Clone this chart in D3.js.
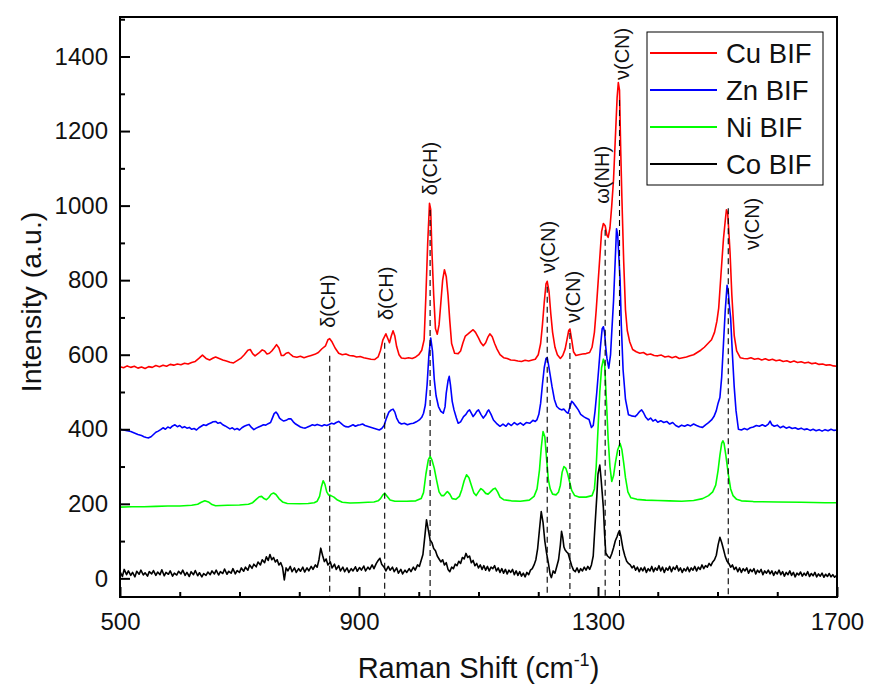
<!DOCTYPE html>
<html>
<head>
<meta charset="utf-8">
<script src="https://cdn.jsdelivr.net/npm/d3@7"></script>
<style>
body{margin:0;background:#fff}
text{font-family:"Liberation Sans",Arial,sans-serif}
</style>
</head>
<body>
<div id="raman" style="width:871px;height:697px"></div>
<script>
// spectra, [Raman shift, intensity]
var cuBIF=[[500,568],[506,565],[512,570],[518,566],[524,569],[530,564],[536,567],[542,563],[548,568],[554,566],[560,571],[566,568],[572,572],[578,569],[584,574],[590,572],[596,575],[602,573],[608,577],[614,575],[620,579],[626,582],[632,590],[638,599],[644,590],[650,586],[656,591],[660,594],[666,590],[672,586],[678,583],[684,580],[690,578],[696,584],[702,590],[708,600],[714,612],[718,614],[722,603],[726,597],[732,604],[738,613],[742,610],[746,602],[750,604],[754,610],[758,618],[762,627],[766,618],[770,598],[774,598],[778,604],[782,606],[786,600],[790,595],[796,593],[802,596],[808,592],[814,595],[820,598],[826,601],[832,606],[838,616],[844,624],[848,640],[851,643],[855,634],[860,618],[866,604],[872,600],[878,602],[884,598],[890,597],[896,594],[902,595],[908,592],[914,590],[920,588],[926,587],[932,594],[936,612],[940,640],[945,656],[949,640],[951,632],[954,650],[957,664],[960,650],[963,622],[967,600],[971,591],[977,590],[983,592],[989,590],[995,594],[1000,600],[1005,612],[1009,640],[1012,760],[1015,900],[1018,1006],[1020,990],[1022,880],[1025,760],[1028,670],[1031,655],[1034,680],[1037,740],[1040,800],[1043,828],[1046,810],[1049,760],[1052,690],[1055,630],[1060,604],[1066,603],[1070,610],[1074,632],[1078,650],[1082,655],[1087,662],[1091,667],[1095,660],[1100,645],[1104,632],[1108,624],[1112,632],[1116,648],[1119,656],[1123,648],[1127,630],[1131,615],[1136,600],[1142,592],[1148,590],[1154,586],[1160,585],[1166,583],[1172,582],[1178,585],[1184,583],[1190,586],[1195,588],[1200,600],[1204,630],[1207,680],[1210,740],[1213,790],[1215,797],[1218,770],[1221,710],[1224,660],[1228,620],[1232,600],[1237,590],[1241,598],[1245,615],[1248,640],[1251,665],[1253,669],[1256,640],[1259,608],[1263,598],[1268,600],[1274,602],[1280,603],[1286,606],[1290,620],[1294,660],[1297,720],[1300,790],[1303,860],[1306,930],[1309,952],[1312,946],[1315,920],[1317,915],[1320,940],[1323,1000],[1326,1070],[1329,1180],[1332,1290],[1334,1330],[1336,1310],[1338,1150],[1340,1020],[1343,850],[1346,720],[1349,665],[1353,635],[1358,614],[1364,608],[1370,604],[1376,606],[1382,600],[1388,602],[1394,598],[1400,597],[1406,599],[1412,594],[1418,596],[1424,592],[1430,595],[1436,590],[1442,592],[1448,594],[1454,597],[1460,600],[1466,606],[1472,612],[1478,620],[1484,630],[1490,640],[1495,660],[1499,690],[1502,725],[1506,820],[1510,911],[1513,960],[1515,989],[1517,980],[1519,930],[1521,874],[1524,760],[1528,651],[1532,610],[1538,592],[1544,590],[1550,589],[1556,592],[1562,588],[1568,590],[1574,586],[1580,589],[1586,585],[1592,588],[1598,584],[1604,586],[1610,582],[1616,584],[1622,580],[1628,583],[1634,579],[1640,581],[1646,578],[1652,580],[1658,576],[1664,578],[1670,574],[1676,575],[1682,572],[1688,573],[1694,570],[1700,569]];

var znBIF=[[500,400],[506,398],[512,396],[518,394],[524,390],[530,386],[536,383],[540,380],[544,378],[548,377],[552,380],[556,386],[560,392],[564,395],[568,399],[572,404],[576,400],[580,406],[584,403],[588,409],[592,412],[596,407],[600,410],[604,404],[608,407],[612,403],[616,405],[620,400],[624,402],[628,398],[632,404],[636,408],[640,412],[644,410],[648,414],[652,417],[656,420],[660,421],[664,416],[668,418],[672,412],[676,409],[680,405],[684,401],[688,404],[692,399],[696,402],[700,398],[704,404],[708,408],[712,411],[716,413],[720,405],[724,399],[728,403],[732,406],[736,409],[740,412],[744,411],[748,415],[752,418],[755,430],[758,442],[761,446],[764,440],[767,430],[770,426],[774,422],[778,424],[782,428],[786,428],[790,420],[794,414],[798,410],[802,406],[806,404],[810,403],[814,406],[818,409],[822,412],[826,410],[830,413],[834,411],[838,409],[842,412],[846,410],[850,413],[854,416],[858,414],[862,418],[866,421],[870,416],[874,410],[878,407],[882,406],[886,409],[890,412],[894,408],[898,411],[902,412],[906,414],[910,410],[914,408],[918,406],[922,404],[926,402],[930,400],[934,398],[938,402],[942,410],[946,430],[950,446],[954,452],[957,454],[960,446],[963,430],[967,418],[971,414],[976,416],[981,412],[986,415],[991,416],[996,420],[1001,425],[1005,432],[1008,443],[1011,465],[1014,520],[1017,600],[1020,645],[1023,610],[1026,533],[1029,490],[1033,461],[1037,448],[1041,443],[1044,460],[1046,497],[1049,530],[1051,542],[1053,520],[1056,475],[1059,452],[1063,430],[1066,416],[1070,420],[1075,434],[1079,440],[1082,448],[1085,452],[1088,443],[1091,434],[1094,440],[1097,448],[1100,452],[1104,440],[1108,430],[1112,438],[1115,448],[1117,452],[1121,440],[1125,425],[1130,416],[1136,408],[1141,414],[1146,408],[1150,416],[1155,410],[1160,418],[1165,412],[1170,417],[1175,411],[1180,418],[1186,416],[1191,424],[1195,421],[1198,426],[1201,440],[1204,470],[1207,520],[1210,565],[1213,590],[1215,592],[1217,575],[1220,545],[1223,515],[1227,480],[1231,461],[1235,455],[1239,452],[1243,454],[1247,446],[1250,443],[1253,460],[1256,475],[1259,470],[1263,461],[1267,452],[1271,440],[1276,434],[1280,430],[1285,426],[1289,405],[1292,410],[1295,448],[1298,500],[1301,559],[1304,620],[1307,670],[1309,675],[1311,660],[1313,620],[1315,590],[1318,564],[1321,600],[1323,660],[1326,744],[1329,860],[1331,938],[1333,920],[1335,860],[1337,800],[1339,680],[1342,559],[1346,480],[1351,439],[1356,436],[1362,434],[1366,440],[1370,448],[1373,452],[1376,445],[1380,432],[1384,425],[1388,430],[1392,422],[1396,426],[1400,419],[1405,423],[1410,418],[1415,421],[1420,414],[1425,418],[1430,410],[1435,406],[1440,411],[1445,408],[1450,412],[1455,409],[1460,414],[1465,410],[1470,407],[1475,405],[1480,412],[1485,418],[1490,425],[1494,434],[1498,450],[1501,470],[1504,485],[1507,540],[1510,630],[1513,720],[1516,786],[1518,770],[1520,730],[1522,698],[1525,600],[1528,513],[1531,450],[1535,400],[1540,398],[1545,402],[1550,399],[1555,404],[1560,406],[1565,410],[1570,408],[1575,412],[1580,408],[1585,414],[1588,422],[1591,412],[1595,408],[1600,411],[1605,404],[1610,408],[1615,403],[1620,406],[1625,402],[1630,404],[1635,400],[1640,403],[1645,399],[1650,401],[1655,397],[1660,400],[1665,396],[1670,399],[1675,395],[1680,399],[1685,396],[1690,400],[1695,397],[1700,398]];

var niBIF=[[500,191],[520,192],[540,192],[560,193],[580,194],[600,194],[620,196],[630,199],[636,204],[642,208],[648,205],[654,198],[660,195],[680,196],[700,197],[715,199],[722,203],[728,212],[733,219],[737,220],[741,214],[745,211],[749,217],[753,226],[757,229],[761,225],[766,214],[772,205],[780,201],[800,200],[815,201],[825,203],[830,207],[834,220],[837,245],[840,262],[843,252],[846,232],[849,224],[853,222],[858,218],[864,210],[872,204],[885,202],[900,203],[915,204],[925,205],[932,208],[936,214],[940,224],[943,228],[947,220],[952,210],[960,207],[980,207],[995,208],[1004,214],[1008,230],[1012,280],[1016,318],[1019,327],[1022,318],[1026,295],[1030,262],[1034,232],[1038,222],[1042,222],[1046,230],[1048,233],[1052,226],[1056,214],[1062,212],[1068,220],[1072,238],[1076,262],[1080,278],[1084,270],[1088,250],[1092,230],[1096,222],[1100,232],[1104,241],[1108,236],[1112,228],[1116,226],[1120,232],[1125,240],[1128,242],[1132,232],[1136,218],[1142,211],[1155,208],[1170,207],[1185,210],[1193,220],[1198,240],[1202,290],[1205,350],[1208,394],[1211,380],[1214,320],[1217,264],[1220,240],[1224,226],[1230,224],[1234,232],[1237,250],[1240,285],[1243,300],[1246,296],[1249,282],[1252,262],[1256,236],[1261,222],[1268,218],[1280,218],[1290,222],[1294,240],[1297,300],[1300,400],[1303,500],[1306,565],[1309,588],[1311,578],[1314,480],[1317,374],[1320,300],[1323,260],[1326,275],[1329,309],[1333,345],[1337,362],[1340,345],[1343,310],[1346,270],[1350,232],[1355,216],[1365,212],[1380,210],[1400,209],[1420,208],[1440,207],[1460,209],[1475,214],[1485,222],[1492,232],[1497,250],[1501,290],[1504,330],[1507,362],[1509,369],[1511,362],[1514,330],[1518,280],[1522,240],[1526,222],[1532,212],[1540,208],[1560,206],[1600,205],[1640,204],[1680,203],[1700,203]];

var coBIF=[[500,18],[504,5],[507,24],[511,10],[514,20],[518,8],[521,16],[525,4],[528,19],[532,11],[535,22],[539,9],[542,15],[546,6],[549,18],[553,12],[556,21],[560,8],[563,17],[567,10],[570,23],[574,7],[577,16],[581,11],[584,20],[588,6],[591,14],[595,9],[598,19],[602,12],[605,22],[609,8],[612,16],[616,5],[619,18],[623,10],[626,21],[630,7],[633,15],[637,4],[640,13],[644,8],[647,17],[651,10],[654,20],[658,12],[661,22],[665,9],[668,18],[672,13],[675,25],[679,11],[682,19],[686,14],[689,26],[693,12],[696,21],[700,16],[703,28],[707,19],[710,30],[714,22],[717,36],[721,27],[724,38],[728,31],[731,44],[735,36],[738,50],[742,42],[745,58],[748,48],[751,64],[754,50],[757,56],[760,44],[763,50],[766,36],[769,42],[772,30],[775,-4],[778,28],[781,20],[785,32],[788,18],[792,28],[795,16],[799,26],[802,19],[806,30],[809,17],[813,28],[816,20],[820,32],[823,24],[827,36],[830,30],[833,50],[836,81],[839,62],[842,45],[845,52],[848,36],[852,44],[855,28],[859,38],[862,24],[866,34],[869,20],[873,30],[876,18],[880,28],[883,16],[887,26],[890,20],[894,31],[897,19],[901,29],[904,22],[908,33],[911,20],[915,30],[918,24],[922,36],[925,26],[929,40],[932,48],[935,54],[938,38],[942,30],[945,20],[949,32],[952,22],[956,30],[959,18],[963,28],[966,14],[970,24],[973,12],[977,22],[980,16],[984,26],[987,18],[991,30],[994,22],[998,36],[1001,32],[1004,48],[1007,64],[1010,110],[1013,157],[1016,130],[1019,103],[1022,96],[1025,80],[1028,74],[1031,60],[1034,52],[1037,44],[1040,50],[1043,36],[1046,42],[1049,24],[1052,18],[1055,30],[1058,26],[1061,38],[1064,34],[1067,46],[1070,40],[1073,56],[1076,52],[1079,67],[1082,56],[1085,60],[1088,42],[1091,48],[1094,34],[1097,40],[1100,28],[1103,36],[1106,24],[1109,34],[1112,22],[1115,32],[1118,20],[1121,30],[1124,26],[1127,34],[1130,20],[1133,28],[1136,16],[1139,26],[1142,14],[1145,24],[1148,12],[1151,22],[1154,16],[1157,24],[1160,10],[1163,20],[1166,8],[1169,18],[1172,6],[1175,14],[1178,4],[1181,16],[1184,10],[1187,22],[1190,26],[1193,36],[1196,50],[1199,80],[1202,130],[1205,179],[1208,150],[1211,100],[1214,67],[1217,40],[1220,10],[1222,2],[1225,20],[1228,14],[1231,32],[1234,50],[1237,90],[1239,126],[1241,110],[1243,84],[1245,76],[1248,70],[1250,67],[1253,50],[1256,34],[1259,22],[1262,18],[1265,28],[1268,16],[1271,26],[1274,20],[1277,30],[1280,22],[1283,32],[1286,24],[1289,36],[1292,60],[1295,142],[1298,220],[1300,280],[1303,304],[1305,270],[1307,230],[1309,189],[1311,120],[1313,68],[1316,60],[1320,54],[1323,66],[1326,82],[1329,101],[1332,112],[1334,122],[1336,128],[1338,115],[1340,96],[1342,78],[1345,60],[1348,46],[1351,40],[1354,36],[1357,28],[1360,34],[1363,22],[1366,30],[1369,18],[1372,28],[1375,20],[1378,30],[1381,16],[1384,26],[1387,20],[1390,32],[1393,18],[1396,28],[1399,22],[1402,34],[1405,20],[1408,30],[1411,16],[1414,28],[1417,22],[1420,32],[1423,18],[1426,30],[1429,24],[1432,34],[1435,20],[1438,28],[1441,16],[1444,26],[1447,20],[1450,30],[1453,18],[1456,28],[1459,22],[1462,32],[1465,20],[1468,30],[1471,24],[1474,36],[1477,26],[1480,34],[1483,30],[1486,40],[1489,34],[1492,44],[1495,50],[1498,62],[1501,90],[1504,110],[1507,96],[1510,78],[1513,59],[1516,46],[1519,40],[1522,30],[1525,36],[1528,24],[1531,30],[1534,18],[1537,28],[1540,16],[1543,26],[1546,20],[1549,28],[1552,14],[1555,24],[1558,18],[1561,26],[1564,12],[1567,22],[1570,16],[1573,24],[1576,10],[1579,20],[1582,14],[1585,22],[1588,12],[1591,20],[1594,8],[1597,18],[1600,12],[1603,22],[1606,10],[1609,18],[1612,6],[1615,16],[1618,10],[1621,20],[1624,8],[1627,16],[1630,4],[1633,14],[1636,9],[1639,17],[1642,6],[1645,14],[1648,8],[1651,18],[1654,5],[1657,13],[1660,7],[1663,16],[1666,4],[1669,12],[1672,6],[1675,14],[1678,3],[1681,11],[1684,5],[1687,13],[1690,4],[1693,10],[1696,3],[1700,9]];

var names=["Cu BIF","Zn BIF","Ni BIF","Co BIF"]
var colors=["#ff0000","#0000ff","#00ff00","#000000"]

// band assignments: dashed line position, where the dash starts, label spot
var bandLabels=["δ(CH)","δ(CH)","δ(CH)","ν(CN)","ν(CN)","ω(NH)","ν(CN)","ν(CN)"]
var bandShift=[851,943,1019,1215,1253,1312,1336,1518]
var bandTop=[597,632,988,782,658,935,1283,993]
var labelShift=[848,945,1019,1216,1258,1307,1340,1558]
var labelBase=[672,693,1028,819,685,1005,1337,881]

var xMajor=[500,900,1300,1700]
var xMinor=[600,700,800,1000,1100,1200,1400,1500,1600]
var yMajor=[0,200,400,600,800,1000,1200,1400]
var yMinor=[100,300,500,700,900,1100,1300,1500]

raman()
function raman(){
var width=871,height=697
var margin={top:17,left:120,right:34,bottom:100}
var w=width-margin.left-margin.right
var h=height-margin.top-margin.bottom

var svg=d3.select("#raman").append("svg")
		.attr("width",width)
		.attr("height",height)
var g=svg.append("g")
		.attr("transform","translate("+margin.left+","+margin.top+")");

var x=d3.scaleLinear().domain([500,1700]).range([0,w])
var y=d3.scaleLinear().domain([-50,1506]).range([h,0])

var line=d3.line()
	.x(function(d){return x(d[0])})
	.y(function(d){return y(d[1])})

var series=[cuBIF,znBIF,niBIF,coBIF]
for(var i=3;i>=0;i--){
	g.append("path")
	 .datum(series[i])
	 .attr("fill","none")
	 .attr("stroke",colors[i])
	 .attr("stroke-width",1.6)
	 .attr("stroke-linejoin","round")
	 .attr("d",line)
}

g.selectAll(".band")
	.data(bandShift)
	.enter()
	.append("line")
	.attr("class","band")
	.attr("x1",function(d){return x(d)})
	.attr("x2",function(d){return x(d)})
	.attr("y1",function(d,i){return y(bandTop[i])})
	.attr("y2",h)
	.attr("stroke","#000")
	.attr("stroke-width",1.1)
	.attr("stroke-dasharray","6,4")

for(var i=0;i<bandLabels.length;i++){
	g.append("text")
	 .attr("transform","translate("+x(labelShift[i])+","+y(labelBase[i])+") rotate(-90)")
	 .attr("dominant-baseline","central")
	 .attr("font-size","20px")
	 .attr("fill","#111")
	 .text(bandLabels[i])
}

// minor ticks first, then labelled majors
g.append("g")
	.attr("transform","translate(0,"+h+")")
	.call(d3.axisBottom(x).tickValues(xMinor).tickSizeInner(-5).tickSizeOuter(0).tickFormat(""))
g.append("g")
	.attr("transform","translate(0,"+h+")")
	.call(d3.axisBottom(x).tickValues(xMajor).tickSizeInner(-10).tickSizeOuter(0).tickPadding(16).tickFormat(d3.format("d")))
g.append("g")
	.call(d3.axisLeft(y).tickValues(yMinor).tickSizeInner(-5).tickSizeOuter(0).tickFormat(""))
g.append("g")
	.call(d3.axisLeft(y).tickValues(yMajor).tickSizeInner(-10).tickSizeOuter(0).tickPadding(12).tickFormat(d3.format("d")))

g.selectAll(".tick line").attr("stroke","#000").attr("stroke-width",2)
g.selectAll(".domain").attr("stroke","none")
g.selectAll(".tick text")
	.attr("font-family","Liberation Sans, Arial, sans-serif")
	.attr("font-size","24px")
	.attr("fill","#111")

g.append("rect")
	.attr("width",w)
	.attr("height",h)
	.attr("fill","none")
	.attr("stroke","#000")
	.attr("stroke-width",2)

svg.append("text")
	.attr("x",margin.left+w/2)
	.attr("y",678)
	.attr("text-anchor","middle")
	.attr("font-size","29px")
	.attr("fill","#111")
	.html('Raman Shift (cm<tspan dy="-12" font-size="18px">-1</tspan><tspan dy="12">)</tspan>')

svg.append("text")
	.attr("transform","translate(31,302) rotate(-90)")
	.attr("text-anchor","middle")
	.attr("dominant-baseline","central")
	.attr("font-size","28.5px")
	.attr("fill","#111")
	.text("Intensity (a.u.)")

// legend
var leg=svg.append("g").attr("transform","translate(647,32)")
leg.append("rect")
	.attr("width",176)
	.attr("height",153)
	.attr("fill","#fff")
	.attr("stroke","#000")
	.attr("stroke-width",1)
for(var i=0;i<names.length;i++){
	leg.append("line")
	   .attr("x1",3).attr("x2",70)
	   .attr("y1",21+i*37).attr("y2",21+i*37)
	   .attr("stroke",colors[i])
	   .attr("stroke-width",2)
	leg.append("text")
	   .attr("x",79)
	   .attr("y",21+i*37)
	   .attr("dominant-baseline","central")
	   .attr("font-size","27.5px")
	   .attr("fill","#111")
	   .text(names[i])
}
}
</script>
</body>
</html>
